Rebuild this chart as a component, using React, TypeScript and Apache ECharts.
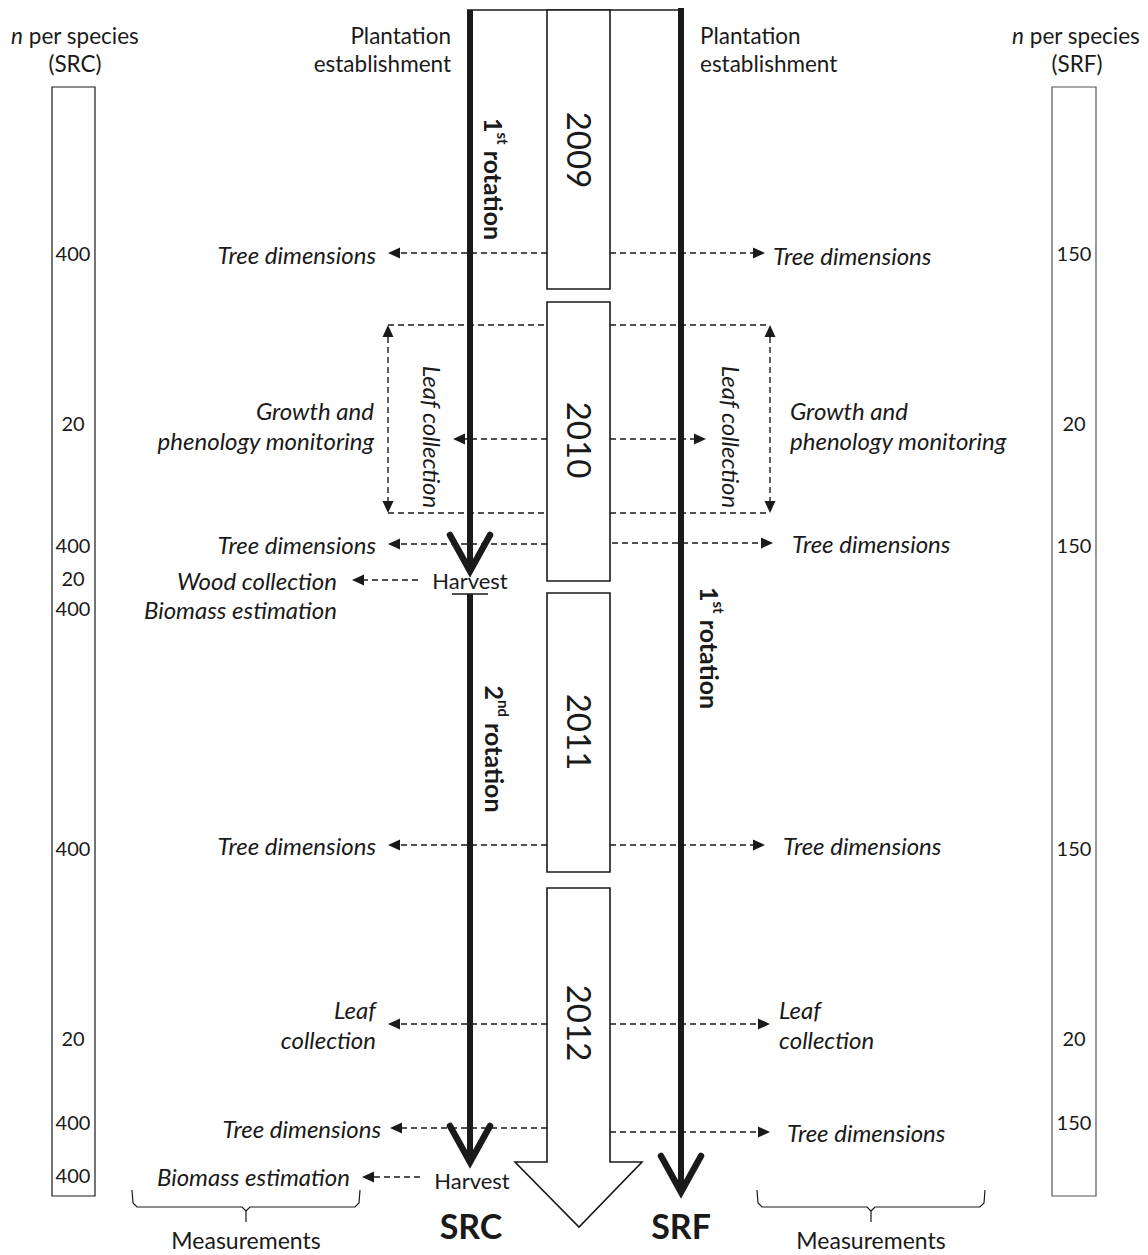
import React, { useEffect, useRef } from "react";
import * as echarts from "echarts";

// ---------- content (values / labels) ----------
const years = ["2009", "2010", "2011", "2012"];
const srcCounts = ["400", "20", "400", "20", "400", "400", "20", "400", "400"];
const srfCounts = ["150", "20", "150", "150", "20", "150"];
const srcLabels = [
  "Tree dimensions",
  "Growth and\nphenology monitoring",
  "Tree dimensions",
  "Wood collection",
  "Biomass estimation",
  "Tree dimensions",
  "Leaf\ncollection",
  "Tree dimensions",
  "Biomass estimation",
];
const srfLabels = [
  "Tree dimensions",
  "Growth and\nphenology monitoring",
  "Tree dimensions",
  "Tree dimensions",
  "Leaf\ncollection",
  "Tree dimensions",
];
const systems = ["SRC", "SRF"];

// ---------- layout (positions only) ----------
const srcCountY = [253, 423, 545, 578, 608, 848, 1038, 1122, 1175];
const srfCountY = [253, 423, 545, 848, 1038, 1122];
const srcLabelPos = [
  [376, 254], [374, 425], [376, 544], [337, 580], [337, 609], [376, 845], [376, 1024], [381, 1128], [350, 1176],
];
const srfLabelPos = [
  [773, 255], [790, 425], [792, 543], [783, 845], [779, 1024], [787, 1132],
];
// arrows: [from x, tip x, y]
const srcArrows = [
  [547, 388, 253], [547, 453, 439], [547, 388, 544], [418, 352, 580], [547, 388, 845], [547, 388, 1024], [547, 390, 1128], [420, 362, 1177],
];
const srfArrows = [
  [610, 765, 253], [610, 706, 439], [612, 773, 543], [610, 765, 845], [610, 770, 1024], [610, 770, 1132],
];
const yearBoxY = [[10, 289], [302, 581], [593, 872], [888, 1162]];
const yearTextY = [150, 440, 732, 1023];

const FONT = 'Lato, "Open Sans", sans-serif';
const INK = "#1a1a1a";
const UP = 22.5;
const IT = 24;

function text(x: number, y: number, t: string, o: any = {}) {
  const align = o.align ?? "center";
  return {
    type: "text",
    x,
    y,
    rotation: o.rot ?? 0,
    silent: true,
    z: 10,
    style: {
      text: t,
      fontFamily: FONT,
      fontSize: o.size ?? UP,
      fontStyle: o.italic ? "italic" : "normal",
      fontWeight: o.bold ? "bold" : "normal",
      fill: INK,
      align,
      verticalAlign: "middle",
      textAlign: align,
      textVerticalAlign: "middle",
      lineHeight: o.lh ?? 30,
      rich: o.rich,
    },
  };
}

function dash(x1: number, y1: number, x2: number, y2: number) {
  return {
    type: "line",
    silent: true,
    z: 5,
    shape: { x1, y1, x2, y2 },
    style: { stroke: INK, lineWidth: 1.4, lineDash: [6, 4] },
  };
}

function head(xTip: number, yTip: number, dir: "l" | "r" | "u" | "d") {
  const L = 12, Wd = 5.5;
  let pts: number[][] = [];
  if (dir === "l") pts = [[xTip, yTip], [xTip + L, yTip - Wd], [xTip + L, yTip + Wd]];
  if (dir === "r") pts = [[xTip, yTip], [xTip - L, yTip - Wd], [xTip - L, yTip + Wd]];
  if (dir === "u") pts = [[xTip, yTip], [xTip - Wd, yTip + L], [xTip + Wd, yTip + L]];
  if (dir === "d") pts = [[xTip, yTip], [xTip - Wd, yTip - L], [xTip + Wd, yTip - L]];
  return { type: "polygon", silent: true, z: 6, shape: { points: pts }, style: { fill: INK } };
}

function hArrow(from: number, tip: number, y: number) {
  const dir = tip < from ? "l" : "r";
  const end = dir === "l" ? tip + 10 : tip - 10;
  return [dash(from, y, end, y), head(tip, y, dir)];
}

function stem(x: number, y1: number, y2: number) {
  return {
    type: "line",
    silent: true,
    z: 4,
    shape: { x1: x, y1, x2: x, y2 },
    style: { stroke: INK, lineWidth: 6 },
  };
}

function vee(x: number, yTip: number) {
  return {
    type: "polyline",
    silent: true,
    z: 4,
    shape: { points: [[x - 20, yTip - 38], [x, yTip - 2], [x + 20, yTip - 38]] },
    style: { stroke: INK, lineWidth: 6.5, lineJoin: "miter", lineCap: "round", fill: "none" },
  };
}

function brace(x1: number, x2: number, yTop: number) {
  const cx = (x1 + x2) / 2;
  const yb = yTop + 17;
  const st = { stroke: INK, lineWidth: 1.2, fill: "none" };
  return [
    {
      type: "polyline", silent: true,
      shape: { points: [[x1, yTop], [x1 + 1, yb - 4], [x1 + 5, yb], [cx - 4, yb], [cx, yb + 4], [cx, yb + 15]] },
      style: st,
    },
    {
      type: "polyline", silent: true,
      shape: { points: [[x2, yTop], [x2 - 1, yb - 4], [x2 - 5, yb], [cx + 4, yb], [cx, yb + 4]] },
      style: st,
    },
  ];
}

function buildGraphic() {
  const g: any[] = [];
  const rotRich = {
    b: { fontFamily: FONT, fontSize: 25, fontWeight: "bold", fill: INK, lineHeight: 32 },
    s: { fontFamily: FONT, fontSize: 15, fontWeight: "bold", fill: INK, verticalAlign: "top", lineHeight: 32, padding: [0, 0, 9, 0] },
  };

  // count columns
  g.push({ type: "rect", silent: true, shape: { x: 52, y: 87, width: 43, height: 1109 }, style: { fill: "#fff", stroke: INK, lineWidth: 1.2 } });
  g.push({ type: "rect", silent: true, shape: { x: 1052, y: 87, width: 44, height: 1109 }, style: { fill: "#fff", stroke: "#555", lineWidth: 1.2 } });
  const nRich = {
    i: { fontFamily: FONT, fontSize: UP, fontStyle: "italic", fill: INK },
    r: { fontFamily: FONT, fontSize: UP, fill: INK },
  };
  g.push(text(75, 35, "{i|n}{r| per species}", { rich: nRich }));
  g.push(text(75, 63, "(SRC)"));
  g.push(text(1076, 35, "{i|n}{r| per species}", { rich: nRich }));
  g.push(text(1077, 63, "(SRF)"));
  srcCounts.forEach((c, i) => g.push(text(73, srcCountY[i], c, { size: 20 })));
  srfCounts.forEach((c, i) => g.push(text(1074, srfCountY[i], c, { size: 20 })));

  // plantation establishment
  g.push(text(451, 49, "Plantation\nestablishment", { align: "right", lh: 28 }));
  g.push(text(700, 49, "Plantation\nestablishment", { align: "left", lh: 28 }));

  // top connecting line
  g.push({ type: "line", silent: true, shape: { x1: 467, y1: 10, x2: 684, y2: 10 }, style: { stroke: INK, lineWidth: 1.5 } });

  // year boxes
  years.forEach((yr, i) => {
    const [y1, y2] = yearBoxY[i];
    if (i < 3) {
      g.push({ type: "rect", silent: true, z: 2, shape: { x: 547, y: y1, width: 63, height: y2 - y1 }, style: { fill: "#fff", stroke: INK, lineWidth: 1.6 } });
    } else {
      g.push({
        type: "polygon", silent: true, z: 2,
        shape: { points: [[547, y1], [610, y1], [610, y2], [642, y2], [579, 1227], [515, y2], [547, y2]] },
        style: { fill: "#fff", stroke: INK, lineWidth: 1.6 },
      });
    }
    g.push(text(580, yearTextY[i], yr, { size: 33, rot: -Math.PI / 2 }));
  });

  // SRC stems
  g.push(stem(470, 10, 566));
  g.push(vee(470, 573));
  g.push({ type: "line", silent: true, shape: { x1: 452, y1: 594, x2: 488, y2: 594 }, style: { stroke: INK, lineWidth: 1.5 } });
  g.push(stem(470, 594, 1158));
  g.push(vee(470, 1164));
  g.push(text(470, 580, "Harvest", { size: 22 }));
  g.push(text(472, 1180, "Harvest", { size: 22 }));

  // SRF stem
  g.push(stem(681, 8, 1186));
  g.push(vee(681, 1194));

  // rotation labels
  g.push(text(494, 179, "{b|1}{s|st}{b| rotation}", { rot: -Math.PI / 2, rich: rotRich }));
  g.push(text(495, 749, "{b|2}{s|nd}{b| rotation}", { rot: -Math.PI / 2, rich: rotRich }));
  g.push(text(710, 648, "{b|1}{s|st}{b| rotation}", { rot: -Math.PI / 2, rich: rotRich }));

  // leaf collection bracket (2010)
  g.push(dash(388, 325, 547, 325));
  g.push(dash(388, 513, 547, 513));
  g.push(dash(388, 337, 388, 501));
  g.push(head(388, 325, "u"));
  g.push(head(388, 513, "d"));
  g.push(dash(610, 325, 770, 325));
  g.push(dash(610, 513, 770, 513));
  g.push(dash(770, 337, 770, 501));
  g.push(head(770, 325, "u"));
  g.push(head(770, 513, "d"));
  g.push(text(432, 437, "Leaf collection", { italic: true, size: IT, rot: -Math.PI / 2 }));
  g.push(text(731, 437, "Leaf collection", { italic: true, size: IT, rot: -Math.PI / 2 }));

  // measurement arrows
  srcArrows.forEach(([a, b, y]) => g.push(...hArrow(a, b, y)));
  srfArrows.forEach(([a, b, y]) => g.push(...hArrow(a, b, y)));
  srcLabels.forEach((t, i) => g.push(text(srcLabelPos[i][0], srcLabelPos[i][1], t, { italic: true, size: IT, align: "right", lh: 30 })));
  srfLabels.forEach((t, i) => g.push(text(srfLabelPos[i][0], srfLabelPos[i][1], t, { italic: true, size: IT, align: "left", lh: 30 })));

  // system labels
  g.push(text(471, 1225, systems[0], { size: 34, bold: true, lh: 36 }));
  g.push(text(681, 1225, systems[1], { size: 34, bold: true, lh: 36 }));

  // braces + measurements
  g.push(...brace(132, 360, 1190));
  g.push(...brace(757, 985, 1190));
  g.push(text(246, 1240, "Measurements", { size: 23, lh: 24 }));
  g.push(text(871, 1240, "Measurements", { size: 23, lh: 24 }));

  return g;
}

export default function App() {
  const ref = useRef<HTMLDivElement>(null);
  useEffect(() => {
    if (!ref.current) return;
    const chart = echarts.init(ref.current, null, { renderer: "svg" });
    chart.setOption({
      animation: false,
      backgroundColor: "#ffffff",
      graphic: { elements: buildGraphic() },
    });
    return () => chart.dispose();
  }, []);
  return (
    <div
      ref={ref}
      style={{ position: "absolute", left: 0, top: 0, width: 1148, height: 1255 }}
    />
  );
}
